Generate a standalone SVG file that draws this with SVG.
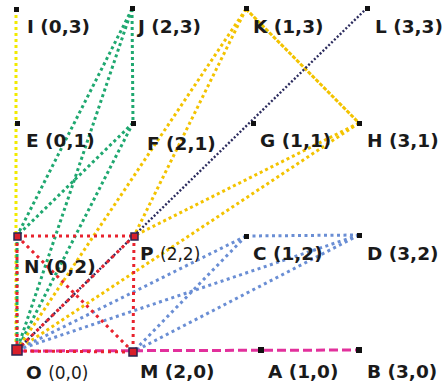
<svg xmlns="http://www.w3.org/2000/svg" width="446" height="385" viewBox="0 0 446 385">
<style>
.bg{fill:#ffffff}
line{fill:none}
.yel{stroke:#f2ea00;stroke-width:3;stroke-dasharray:3 3}
.grn{stroke:#1fa870;stroke-width:3;stroke-dasharray:3 3}
.gld{stroke:#f3c300;stroke-width:3;stroke-dasharray:3 3}
.gldd{stroke:#f3c300;stroke-width:3;stroke-dasharray:4 1.5}
.nav{stroke:#2c2c5e;stroke-width:2.4;stroke-dasharray:2 2}
.blu{stroke:#6a8ed4;stroke-width:3;stroke-dasharray:3 3.5}
.red{stroke:#e8232e;stroke-width:3;stroke-dasharray:3 4}
.mag{stroke:#e2309c;stroke-width:3;stroke-dasharray:9 4}
.pt{fill:#111111}
.cp{fill:#d81f2a;stroke:#2a2450;stroke-width:1.5}
text{font-family:"DejaVu Sans","Liberation Sans",sans-serif;font-size:18.5px;font-weight:bold;fill:#1a1a1a}
.rg{font-weight:normal;font-size:17px}
</style>
<rect class="bg" x="0" y="0" width="446" height="385"/>
<g id="connectors">
  <line class="yel" x1="16" y1="9" x2="16" y2="350"/>
  <line class="grn" x1="17" y1="236" x2="17" y2="350"/>
  <line class="grn" x1="132" y1="9" x2="17" y2="236"/>
  <line class="grn" x1="132" y1="9" x2="17" y2="350"/>
  <line class="grn" x1="132" y1="9" x2="133" y2="123"/>
  <line class="grn" x1="133" y1="123" x2="17" y2="236"/>
  <line class="grn" x1="133" y1="123" x2="17" y2="350"/>
  <line class="gld" x1="246" y1="9" x2="17" y2="350"/>
  <line class="gld" x1="246" y1="9" x2="134" y2="236"/>
  <line class="gldd" x1="246" y1="9" x2="359" y2="123"/>
  <line class="gld" x1="359" y1="123" x2="134" y2="236"/>
  <line class="gld" x1="359" y1="123" x2="17" y2="350"/>
  <line class="nav" x1="367" y1="8" x2="17" y2="350"/>
  <line class="blu" x1="246" y1="236" x2="359" y2="235"/>
  <line class="blu" x1="246" y1="236" x2="17" y2="350"/>
  <line class="blu" x1="246" y1="236" x2="133" y2="352"/>
  <line class="blu" x1="359" y1="235" x2="17" y2="350"/>
  <line class="blu" x1="359" y1="235" x2="133" y2="352"/>
  <line class="mag" x1="17" y1="351" x2="359" y2="350"/>
  <line class="red" x1="17" y1="236" x2="134" y2="236"/>
  <line class="red" x1="134" y1="236" x2="133" y2="352"/>
  <line class="red" x1="17" y1="236" x2="17" y2="350"/>
  <line class="red" x1="17" y1="351" x2="133" y2="352"/>
  <line class="red" x1="17" y1="236" x2="133" y2="352"/>
  <line class="red" x1="134" y1="236" x2="17" y2="350"/>
</g>
<g id="I"><rect class="pt" x="14" y="7" width="5" height="5"/><text x="27" y="33">I (0,3)</text></g>
<g id="J"><rect class="pt" x="130" y="6" width="5" height="5"/><text x="138" y="33">J (2,3)</text></g>
<g id="K"><rect class="pt" x="244" y="6" width="5" height="5"/><text x="253" y="33">K (1,3)</text></g>
<g id="L"><rect class="pt" x="365" y="6" width="5" height="5"/><text x="375" y="33">L (3,3)</text></g>
<g id="E"><rect class="pt" x="15" y="121" width="5" height="5"/><text x="26" y="147">E (0,1)</text></g>
<g id="F"><rect class="pt" x="131" y="121" width="5" height="5"/><text x="147" y="150">F (2,1)</text></g>
<g id="G"><rect class="pt" x="251" y="121" width="5" height="5"/><text x="260" y="147">G (1,1)</text></g>
<g id="H"><rect class="pt" x="357" y="121" width="5" height="5"/><text x="367" y="147">H (3,1)</text></g>
<g id="N"><rect class="cp" x="14" y="233" width="7" height="7"/><text x="24" y="273">N (0,2)</text></g>
<g id="P"><rect class="cp" x="131" y="233" width="7" height="7"/><text x="140" y="260">P <tspan class="rg">(2,2)</tspan></text></g>
<g id="C"><rect class="pt" x="244" y="234" width="5" height="5"/><text x="253" y="260">C (1,2)</text></g>
<g id="D"><rect class="pt" x="357" y="233" width="5" height="5"/><text x="367" y="260">D (3,2)</text></g>
<g id="O"><rect class="cp" x="12" y="345" width="10" height="10"/><text x="26" y="379">O <tspan class="rg">(0,0)</tspan></text></g>
<g id="M"><rect class="cp" x="129" y="348" width="8" height="8"/><text x="140" y="378">M (2,0)</text></g>
<g id="A"><rect class="pt" x="258" y="347" width="6" height="6"/><text x="268" y="378">A (1,0)</text></g>
<g id="B"><rect class="pt" x="356" y="347" width="6" height="6"/><text x="367" y="378">B (3,0)</text></g>
</svg>
